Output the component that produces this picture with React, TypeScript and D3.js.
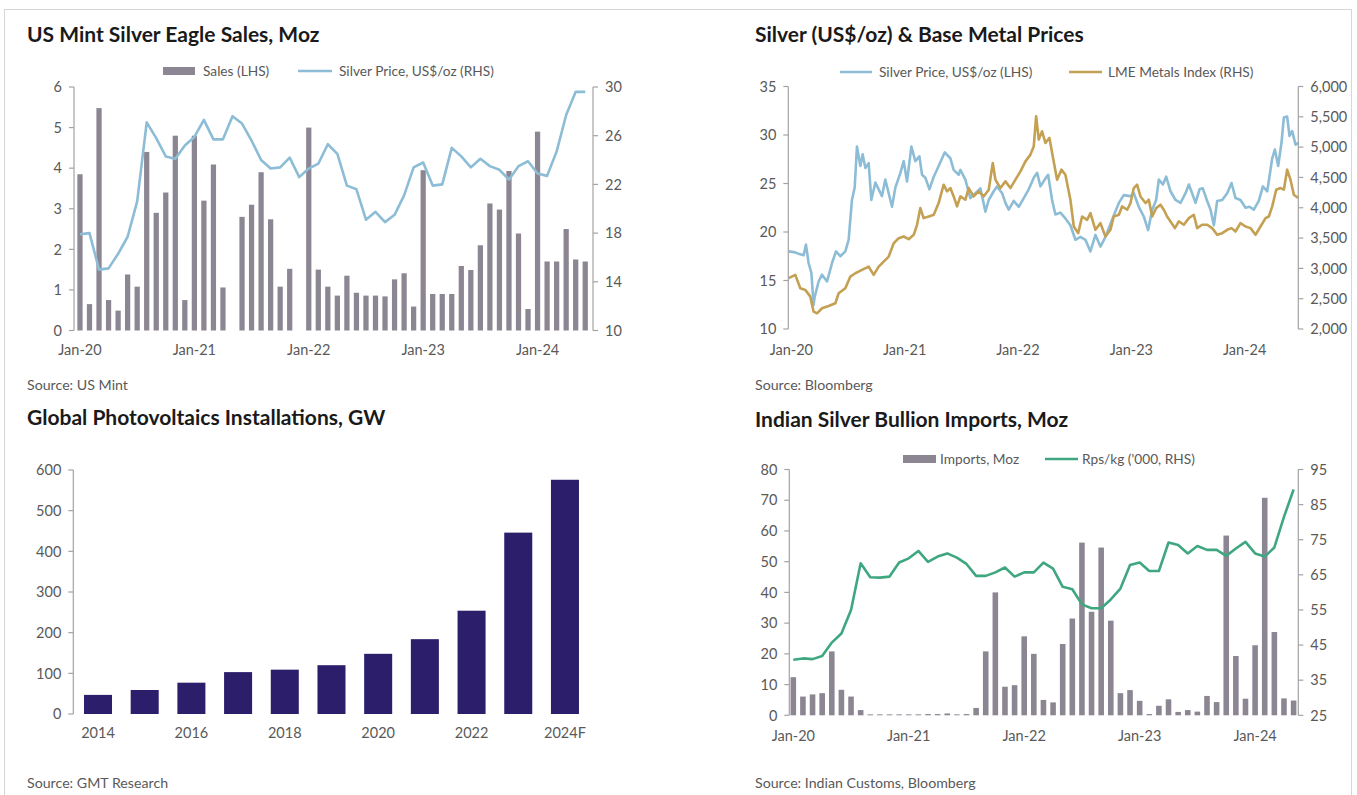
import React from 'react';
import * as d3 from 'd3';

const W = 1357;
const H = 795;
const FONT = "Lato, 'Open Sans', sans-serif";
const AXIS = '#a3a3a3';
const TXT = '#595959';
const TITLE = '#1a1a1a';
const TICK_FS = 14.5;
const LEG_FS = 13.7;
const SRC_FS = 14.2;
const TITLE_FS = 21;

// ---------- Panel 1: US Mint Silver Eagle Sales ----------
const mintMonths = d3.timeMonth.range(new Date(2020, 0, 1), new Date(2024, 6, 1));
const eagleSales = [
  3.85, 0.65, 5.48, 0.75, 0.49, 1.38, 1.08, 4.4, 2.9, 3.4, 4.8, 0.75,
  4.8, 3.2, 4.09, 1.06, 0, 2.8, 3.1, 3.9, 2.74, 1.08, 1.52, 0,
  5.0, 1.5, 1.08, 0.86, 1.35, 0.93, 0.86, 0.86, 0.84, 1.26, 1.41, 0.59,
  3.95, 0.9, 0.9, 0.9, 1.59, 1.49, 2.1, 3.13, 2.98, 3.93, 2.39, 0.53,
  4.9, 1.7, 1.7, 2.5, 1.75, 1.7,
];
const silverMonthly = [
  17.9, 18.0, 15.0, 15.1, 16.3, 17.7, 20.6, 27.1, 25.8, 24.3, 24.1, 25.2,
  25.9, 27.3, 25.7, 25.7, 27.6, 27.0, 25.6, 24.0, 23.3, 23.4, 24.2, 22.6,
  23.3, 23.7, 25.3, 24.5, 21.9, 21.6, 19.1, 19.75, 18.9, 19.5, 21.1, 23.4,
  23.8, 21.9, 22.0, 25.0, 24.3, 23.4, 24.1, 23.5, 23.2, 22.4, 23.5, 23.9,
  22.9, 22.7, 24.7, 27.7, 29.6, 29.6,
];
const salesTicks = [0, 1, 2, 3, 4, 5, 6];
const priceTicks = [10, 14, 18, 22, 26, 30];

// ---------- Panel 2: Silver & LME (months since Jan-20, value) ----------
const silverDaily: [number, number][] = [
  [0.04, 18.0], [0.74, 17.9], [1.09, 17.75], [1.62, 17.6], [1.87, 18.7], [2.15, 16.8], [2.44, 15.8],
  [2.68, 12.5], [2.79, 13.3], [3.21, 14.9], [3.57, 15.6], [4.1, 14.9], [4.63, 16.8], [5.05, 18.0],
  [5.51, 17.5], [6.04, 18.0], [6.39, 19.2], [6.74, 23.3], [7.03, 24.6], [7.27, 28.8], [7.63, 26.8],
  [7.87, 28.0], [8.16, 26.6], [8.51, 27.1], [8.79, 23.3], [9.22, 25.1], [9.57, 24.4], [9.92, 23.7],
  [10.27, 25.4], [10.63, 24.0], [10.98, 22.6], [11.34, 24.6], [11.87, 26.1], [12.22, 27.3],
  [12.57, 25.2], [13.03, 28.8], [13.45, 27.3], [13.88, 27.8], [14.16, 25.9], [14.51, 25.6],
  [14.94, 24.4], [15.4, 25.7], [15.92, 26.8], [16.56, 28.2], [17.16, 27.6], [17.51, 26.4],
  [18.04, 25.9], [18.22, 26.4], [18.75, 25.4], [19.28, 23.5], [19.81, 24.0], [20.34, 24.5],
  [20.87, 22.1], [21.22, 23.3], [21.75, 24.2], [22.1, 24.7], [22.64, 24.0], [22.99, 23.0],
  [23.34, 22.3], [23.87, 23.2], [24.4, 22.6], [24.93, 23.5], [25.46, 24.4], [25.99, 25.6],
  [26.35, 26.1], [26.7, 24.7], [27.15, 25.4], [27.51, 25.9], [27.93, 23.3], [28.28, 21.8],
  [28.81, 22.0], [29.34, 21.4], [29.87, 20.7], [30.4, 19.2], [30.93, 19.5], [31.46, 19.2],
  [31.99, 18.0], [32.52, 19.7], [33.05, 18.5], [33.58, 19.5], [34.29, 21.3], [35.0, 23.0],
  [35.52, 23.8], [36.23, 23.7], [36.58, 24.0], [37.11, 22.6], [37.64, 21.6], [38.1, 20.2],
  [38.53, 22.3], [38.95, 23.3], [39.23, 25.4], [39.66, 24.9], [40.01, 25.7], [40.47, 24.2],
  [41.0, 23.3], [41.53, 23.0], [42.06, 24.0], [42.41, 24.9], [42.76, 24.0], [43.12, 23.0],
  [43.54, 24.4], [43.89, 24.5], [44.35, 23.2], [44.71, 22.3], [45.06, 20.7], [45.41, 23.2],
  [45.94, 23.3], [46.47, 24.0], [46.93, 25.05], [47.35, 23.5], [47.88, 23.3], [48.41, 22.5],
  [48.84, 22.6], [49.29, 22.3], [49.82, 23.2], [50.25, 24.7], [50.71, 24.2], [51.24, 27.6],
  [51.52, 28.5], [51.87, 26.8], [52.22, 29.2], [52.47, 31.8], [52.82, 31.9], [53.07, 29.9],
  [53.35, 30.4], [53.71, 29.0], [53.99, 29.2],
];
const lmeDaily: [number, number][] = [
  [0.04, 2838], [0.74, 2893], [1.27, 2672], [1.8, 2645], [2.33, 2534], [2.68, 2286], [3.04, 2259],
  [3.57, 2342], [4.27, 2380], [4.98, 2424], [5.33, 2590], [6.04, 2672], [6.57, 2865], [7.1, 2920],
  [7.8, 2975], [8.51, 3030], [9.04, 2893], [9.57, 3030], [10.1, 3112], [10.63, 3195], [11.16, 3415],
  [11.69, 3498], [12.22, 3526], [12.75, 3482], [13.28, 3554], [13.63, 3719], [13.98, 3994],
  [14.33, 3829], [14.87, 3856], [15.4, 3884], [15.92, 4077], [16.45, 4380], [16.81, 4270],
  [17.16, 4325], [17.51, 4187], [17.87, 4022], [18.22, 4187], [18.75, 4132], [19.1, 4325],
  [19.63, 4187], [20.16, 4270], [20.69, 4187], [21.22, 4298], [21.65, 4738], [21.93, 4463],
  [22.46, 4325], [22.99, 4435], [23.52, 4325], [24.05, 4463], [24.58, 4600], [25.11, 4765],
  [25.64, 4876], [25.99, 5013], [26.24, 5509], [26.52, 5124], [26.87, 5262], [27.22, 5069],
  [27.65, 5152], [28.0, 4848], [28.46, 4463], [28.92, 4628], [29.34, 4545], [29.87, 4132],
  [30.23, 3691], [30.69, 3581], [31.11, 3856], [31.64, 3801], [31.99, 3912], [32.52, 3636],
  [33.05, 3746], [33.58, 3526], [34.11, 3636], [34.46, 3856], [35.0, 3884], [35.34, 4022],
  [35.88, 3967], [36.23, 4077], [36.58, 4325], [36.93, 4380], [37.29, 4187], [37.82, 4077],
  [38.17, 4132], [38.53, 3856], [38.95, 3994], [39.41, 4050], [39.76, 3967], [40.11, 3856],
  [40.47, 3774], [40.93, 3664], [41.35, 3774], [41.88, 3719], [42.41, 3829], [42.94, 3884],
  [43.29, 3664], [43.82, 3719], [44.35, 3719], [44.88, 3664], [45.41, 3554], [45.94, 3581],
  [46.47, 3636], [46.93, 3664], [47.35, 3608], [47.88, 3746], [48.41, 3691], [48.94, 3664],
  [49.47, 3554], [50.0, 3691], [50.53, 3829], [50.88, 3856], [51.24, 4022], [51.66, 4298],
  [52.12, 4325], [52.47, 4298], [52.82, 4628], [53.17, 4463], [53.53, 4215], [53.99, 4160],
];
const silverTicks = [10, 15, 20, 25, 30, 35];
const lmeTicks = [2000, 2500, 3000, 3500, 4000, 4500, 5000, 5500, 6000];
const yearTickMonths = [0, 12, 24, 36, 48];
const yearTickLabels = ['Jan-20', 'Jan-21', 'Jan-22', 'Jan-23', 'Jan-24'];

// ---------- Panel 3: Global PV installations ----------
const pvYears = ['2014', '2015', '2016', '2017', '2018', '2019', '2020', '2021', '2022', '2023', '2024F'];
const pvValues = [47, 59, 77, 103, 109, 120, 148, 184, 254, 446, 576];
const pvTicks = [0, 100, 200, 300, 400, 500, 600];

// ---------- Panel 4: Indian silver imports ----------
const indiaMonths = d3.timeMonth.range(new Date(2020, 0, 1), new Date(2024, 5, 1));
const indiaImports = [
  12.4, 6.1, 6.8, 7.2, 20.8, 8.3, 6.1, 1.7, 0.3, 0.3, 0.3, 0.3,
  0.3, 0.3, 0.4, 0.4, 0.6, 0.3, 0.4, 2.4, 20.8, 40.0, 9.3, 9.8,
  25.7, 20.0, 5.0, 4.2, 23.2, 31.5, 56.2, 33.7, 54.6, 30.8, 7.2, 8.2,
  4.7, 0.4, 3.1, 5.2, 1.1, 1.7, 1.2, 6.3, 4.3, 58.5, 19.3, 5.4,
  22.8, 70.8, 27.1, 5.5, 4.8,
];
const rpsPerKg = [
  40.8, 41.2, 41.0, 41.9, 45.7, 48.3, 55.0, 68.3, 64.3, 64.2, 64.5, 68.5,
  69.7, 71.8, 68.7, 70.2, 71.1, 69.9, 68.1, 64.7, 64.7, 65.7, 67.1, 64.5,
  65.7, 65.7, 68.5, 66.8, 61.6, 60.9, 56.6, 55.5, 55.5, 58.0, 61.1, 67.8,
  68.5, 66.1, 66.1, 74.2, 73.5, 71.1, 73.2, 72.1, 72.1, 70.4, 72.5, 74.4,
  71.1, 70.2, 72.8, 81.5, 89.3,
];
const importTicks = [0, 10, 20, 30, 40, 50, 60, 70, 80];
const rpsTicks = [25, 35, 45, 55, 65, 75, 85, 95];

const fmtMonth = d3.timeFormat('%b-%y');
const fmtThousands = d3.format(',');

type Scale = d3.ScaleLinear<number, number>;

function VAxis({ x, y, ticks, side, fmt }: { x: number; y: Scale; ticks: number[]; side: 'left' | 'right'; fmt?: (v: number) => string }) {
  const [a, b] = y.range();
  const dir = side === 'left' ? -1 : 1;
  return (
    <g>
      <line x1={x} x2={x} y1={a} y2={b} stroke={AXIS} strokeWidth={1.2} />
      {ticks.map((t) => (
        <g key={t}>
          <line x1={x} x2={x + dir * 5} y1={y(t)} y2={y(t)} stroke={AXIS} strokeWidth={1.2} />
          <text
            x={x + dir * 12}
            y={y(t)}
            dy="0.36em"
            textAnchor={side === 'left' ? 'end' : 'start'}
            fontSize={TICK_FS}
            fill={TXT}
          >
            {fmt ? fmt(t) : String(t)}
          </text>
        </g>
      ))}
    </g>
  );
}

function Title({ x, y, text }: { x: number; y: number; text: string }) {
  return (
    <text x={x} y={y} fontSize={TITLE_FS} fontWeight={700} fill={TITLE}>
      {text}
    </text>
  );
}

function Source({ x, y, text }: { x: number; y: number; text: string }) {
  return (
    <text x={x} y={y} fontSize={SRC_FS} fill={TXT}>
      {text}
    </text>
  );
}

function Panel1() {
  const xb = d3.scaleBand<string>().domain(mintMonths.map((d) => fmtMonth(d))).range([75.2, 590]).paddingInner(0.45).paddingOuter(0.225);
  const yL = d3.scaleLinear().domain([0, 6]).range([330.5, 87]);
  const yR = d3.scaleLinear().domain([10, 30]).range([330.5, 87]);
  const keys = xb.domain();
  const line = d3
    .line<number>()
    .x((_, i) => (xb(keys[i]) as number) + xb.bandwidth() / 2)
    .y((d) => yR(d));
  return (
    <g>
      <Title x={27} y={42} text="US Mint Silver Eagle Sales, Moz" />
      <rect x={163} y={67} width={32} height={8} fill="#8c8592" />
      <text x={203} y={76} fontSize={LEG_FS} fill={TXT}>Sales (LHS)</text>
      <line x1={298} x2={332} y1={71} y2={71} stroke="#8dbdd6" strokeWidth={2.5} />
      <text x={339} y={76} fontSize={LEG_FS} fill={TXT}>Silver Price, US$/oz (RHS)</text>
      {eagleSales.map((v, i) => (
        <rect key={i} x={xb(keys[i])} y={yL(v)} width={xb.bandwidth()} height={yL(0) - yL(v)} fill="#8c8592" />
      ))}
      <path d={line(silverMonthly) || ''} fill="none" stroke="#8dbdd6" strokeWidth={2.6} strokeLinejoin="round" />
      <VAxis x={74} y={yL} ticks={salesTicks} side="left" />
      <VAxis x={593} y={yR} ticks={priceTicks} side="right" />
      {yearTickMonths.map((m, i) => (
        <text key={m} x={(xb(keys[m]) as number) + xb.bandwidth() / 2} y={355} textAnchor="middle" fontSize={TICK_FS} fill={TXT}>
          {yearTickLabels[i]}
        </text>
      ))}
      <Source x={27} y={390} text="Source: US Mint" />
    </g>
  );
}

function Panel2() {
  const x = d3.scaleLinear().domain([0, 54]).range([788.3, 1298.3]);
  const yL = d3.scaleLinear().domain([10, 35]).range([329, 86.5]);
  const yR = d3.scaleLinear().domain([2000, 6000]).range([329, 86.5]);
  const lineS = d3.line<[number, number]>().x((d) => x(d[0])).y((d) => yL(d[1]));
  const lineL = d3.line<[number, number]>().x((d) => x(d[0])).y((d) => yR(d[1]));
  return (
    <g>
      <Title x={755} y={42} text="Silver (US$/oz) & Base Metal Prices" />
      <line x1={840} x2={872} y1={72} y2={72} stroke="#8dbdd6" strokeWidth={2.5} />
      <text x={879} y={77} fontSize={LEG_FS} fill={TXT}>Silver Price, US$/oz (LHS)</text>
      <line x1={1069} x2={1102} y1={72} y2={72} stroke="#c4a052" strokeWidth={2.5} />
      <text x={1108} y={77} fontSize={LEG_FS} fill={TXT}>LME Metals Index (RHS)</text>
      <path d={lineS(silverDaily) || ''} fill="none" stroke="#8dbdd6" strokeWidth={2.6} strokeLinejoin="round" />
      <path d={lineL(lmeDaily) || ''} fill="none" stroke="#c4a052" strokeWidth={2.6} strokeLinejoin="round" />
      <VAxis x={788.3} y={yL} ticks={silverTicks} side="left" />
      <VAxis x={1298.3} y={yR} ticks={lmeTicks} side="right" fmt={fmtThousands} />
      {yearTickMonths.map((m, i) => (
        <text key={m} x={x(m) + 3} y={355} textAnchor="middle" fontSize={TICK_FS} fill={TXT}>
          {yearTickLabels[i]}
        </text>
      ))}
      <Source x={755} y={390} text="Source: Bloomberg" />
    </g>
  );
}

function Panel3() {
  const xb = d3.scaleBand<string>().domain(pvYears).range([74.65, 588.3]).paddingInner(0.4).paddingOuter(0.2);
  const y = d3.scaleLinear().domain([0, 600]).range([714, 470]);
  return (
    <g>
      <Title x={27} y={425} text="Global Photovoltaics Installations, GW" />
      {pvValues.map((v, i) => (
        <rect key={i} x={xb(pvYears[i])} y={y(v)} width={xb.bandwidth()} height={y(0) - y(v)} fill="#2d1e6c" />
      ))}
      <VAxis x={73.3} y={y} ticks={pvTicks} side="left" />
      {pvYears.map((yr, i) =>
        i % 2 === 0 ? (
          <text key={yr} x={(xb(yr) as number) + xb.bandwidth() / 2} y={738} textAnchor="middle" fontSize={TICK_FS} fill={TXT}>
            {yr}
          </text>
        ) : null
      )}
      <Source x={27} y={788} text="Source: GMT Research" />
    </g>
  );
}

function Panel4() {
  const xb = d3.scaleBand<string>().domain(indiaMonths.map((d) => fmtMonth(d))).range([788.5, 1298.4]).paddingInner(0.42).paddingOuter(0.21);
  const yL = d3.scaleLinear().domain([0, 80]).range([715.3, 469.5]);
  const yR = d3.scaleLinear().domain([25, 95]).range([715.3, 469.5]);
  const keys = xb.domain();
  const line = d3
    .line<number>()
    .x((_, i) => (xb(keys[i]) as number) + xb.bandwidth() / 2)
    .y((d) => yR(d));
  return (
    <g>
      <Title x={755} y={427} text="Indian Silver Bullion Imports, Moz" />
      <rect x={903} y={455} width={33} height={8} fill="#8c8592" />
      <text x={940} y={464} fontSize={LEG_FS} fill={TXT}>Imports, Moz</text>
      <line x1={1045} x2={1078} y1={459} y2={459} stroke="#3fa780" strokeWidth={2.5} />
      <text x={1082} y={464} fontSize={LEG_FS} fill={TXT}>Rps/kg ('000, RHS)</text>
      {indiaImports.map((v, i) => (
        <rect key={i} x={xb(keys[i])} y={yL(v)} width={xb.bandwidth()} height={yL(0) - yL(v)} fill="#8c8592" />
      ))}
      <path d={line(rpsPerKg) || ''} fill="none" stroke="#3fa780" strokeWidth={2.6} strokeLinejoin="round" />
      <VAxis x={789.3} y={yL} ticks={importTicks} side="left" />
      <VAxis x={1298.3} y={yR} ticks={rpsTicks} side="right" />
      {yearTickMonths.map((m, i) => (
        <text key={m} x={(xb(keys[m]) as number) + xb.bandwidth() / 2} y={741} textAnchor="middle" fontSize={TICK_FS} fill={TXT}>
          {yearTickLabels[i]}
        </text>
      ))}
      <Source x={755} y={788} text="Source: Indian Customs, Bloomberg" />
    </g>
  );
}

export default function App() {
  return (
    <svg
      width={W}
      height={H}
      viewBox={`0 0 ${W} ${H}`}
      style={{ position: 'absolute', left: 0, top: 0, display: 'block', background: '#fff' }}
      fontFamily={FONT}
    >
      <rect x={0} y={0} width={W} height={H} fill="#fff" />
      <rect x={4.5} y={9.5} width={1347} height={800} fill="none" stroke="#d6d6d6" strokeWidth={1} />
      <Panel1 />
      <Panel2 />
      <Panel3 />
      <Panel4 />
    </svg>
  );
}
